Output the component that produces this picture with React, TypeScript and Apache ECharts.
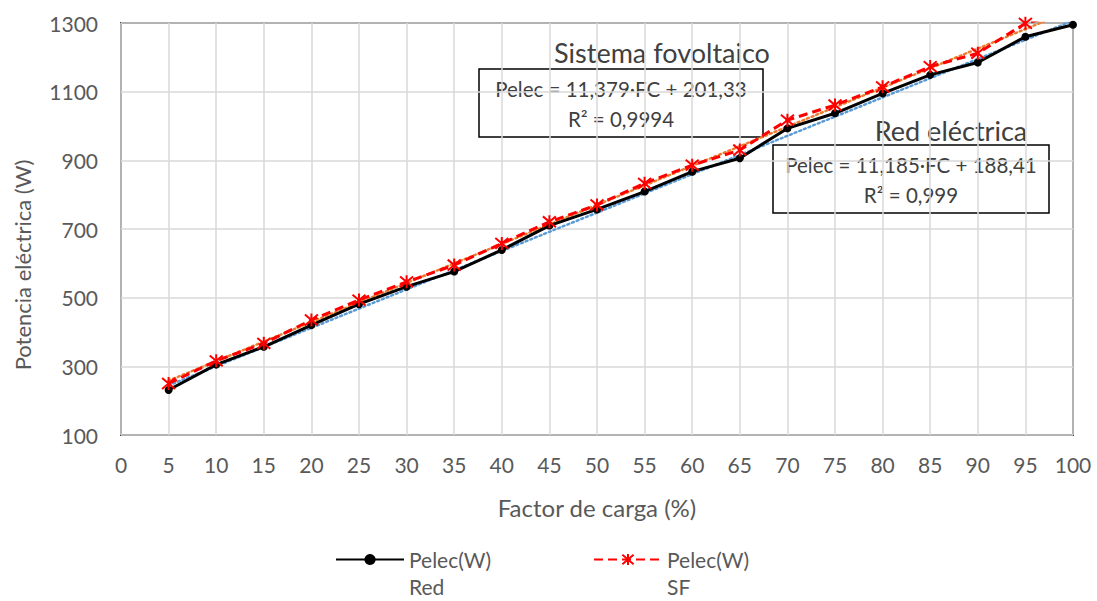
import React, { useEffect, useRef } from "react";
import * as echarts from "echarts";

// Factor de carga (%)
const FC = [5, 10, 15, 20, 25, 30, 35, 40, 45, 50, 55, 60, 65, 70, 75, 80, 85, 90, 95, 100];
// Potencia eléctrica medida con alimentación de red (W)
const P_RED = [231, 305, 357, 420, 481, 532, 576, 639, 710, 757, 809, 867, 906, 993, 1037, 1095, 1149, 1185, 1260, 1295];
// Potencia eléctrica con el sistema fotovoltaico (W)
const P_SF = [250, 316, 367, 435, 493, 546, 595, 658, 721, 770, 833, 886, 930, 1017, 1061, 1114, 1173, 1212, 1299, 1335];

// Ajustes lineales
const TREND_RED = { slope: 11.185, intercept: 188.41, r2: 0.999 };
const TREND_SF = { slope: 11.379, intercept: 201.33, r2: 0.9994 };

const NAME_RED = "Pelec(W) Red";
const NAME_SF = "Pelec(W) SF";

const FONT = "Lato, 'Open Sans', sans-serif";
const GREY = "#595959";
const DARK = "#404040";

const comma = (n: number) => String(n).replace(".", ",");
const eqText = (t: { slope: number; intercept: number; r2: number }) =>
  `Pelec = ${comma(t.slope)}·FC + ${comma(t.intercept)}\nR² = ${comma(t.r2)}`;
const trendPoints = (t: { slope: number; intercept: number }) => [
  [FC[0], t.slope * FC[0] + t.intercept],
  [FC[FC.length - 1], t.slope * FC[FC.length - 1] + t.intercept],
];

const STAR = "path://M0,0L10,10M10,0L0,10M5,-1L5,11";

function eqBox(x: number, y: number, w: number, h: number, text: string) {
  return {
    type: "group",
    x,
    y,
    children: [
      { type: "rect", shape: { x: 0, y: 0, width: w, height: h }, style: { fill: "#fff", stroke: "#000", lineWidth: 1.5 } },
      {
        type: "text",
        x: w / 2,
        y: h / 2 + 1,
        style: { text, fontFamily: FONT, fontSize: 20.5, fill: DARK, align: "center", verticalAlign: "middle", lineHeight: 30 },
      },
    ],
  };
}

export default function App() {
  const ref = useRef<HTMLDivElement>(null);
  useEffect(() => {
    const chart = echarts.init(ref.current!, null, { renderer: "svg" });
    // first line of each legend label sits level with its icon, the second one below it
    const legendBase = {
      orient: "horizontal",
      itemWidth: 68,
      itemHeight: 14,
      itemGap: 5,
      padding: 0,
      formatter: (n: string) => "\n" + n.replace(" ", "\n"),
      textStyle: { fontFamily: FONT, fontSize: 21, color: GREY, lineHeight: 27 },
    };
    chart.setOption({
      animation: false,
      backgroundColor: "#fff",
      textStyle: { fontFamily: FONT },
      grid: { left: 121, top: 23, right: 24, bottom: 166, show: true, borderColor: DARK, borderWidth: 2, backgroundColor: "transparent" },
      xAxis: {
        type: "value",
        min: 0,
        max: 100,
        interval: 5,
        name: "Factor de carga (%)",
        nameLocation: "middle",
        nameGap: 60,
        nameTextStyle: { fontFamily: FONT, fontSize: 24, color: GREY },
        axisLine: { show: false },
        axisTick: { show: false },
        axisLabel: { fontFamily: FONT, fontSize: 21, color: GREY, margin: 19 },
        splitLine: { show: true, lineStyle: { color: "#d9d9d9", width: 1.5 } },
      },
      yAxis: {
        type: "value",
        min: 100,
        max: 1300,
        interval: 200,
        axisLine: { show: false },
        axisTick: { show: false },
        axisLabel: { fontFamily: FONT, fontSize: 21, color: GREY, margin: 23, formatter: (v: number) => String(v) },
        splitLine: { show: true, lineStyle: { color: "#d9d9d9", width: 1.5 } },
      },
      legend: [
        { ...legendBase, data: [NAME_RED], left: 335, top: 519 },
        { ...legendBase, data: [NAME_SF], left: 593, top: 519 },
      ],
      series: [
        {
          name: "Lineal (Red)",
          type: "line",
          data: trendPoints(TREND_RED),
          showSymbol: false,
          symbol: "none",
          lineStyle: { color: "#5B9BD5", width: 2.5, type: [2, 3], cap: "round" },
          clip: true,
          silent: true,
        },
        {
          name: "Lineal (SF)",
          type: "line",
          data: trendPoints(TREND_SF),
          showSymbol: false,
          symbol: "none",
          lineStyle: { color: "#ED7D31", width: 2.5, type: [2, 3], cap: "round" },
          clip: true,
          silent: true,
        },
        {
          name: NAME_RED,
          type: "line",
          data: FC.map((x, i) => [x, P_RED[i]]),
          symbol: "circle",
          symbolSize: 8,
          itemStyle: { color: "#000" },
          lineStyle: { color: "#000", width: 3 },
          clip: true,
        },
        {
          name: NAME_SF,
          type: "line",
          data: FC.map((x, i) => [x, P_SF[i]]),
          symbol: STAR,
          symbolSize: 13,
          itemStyle: { color: "#FF0000", borderColor: "#FF0000", borderWidth: 2 },
          lineStyle: { color: "#FF0000", width: 3, type: [9, 5] },
          clip: true,
        },
      ],
      graphic: [
        {
          type: "text",
          x: 22,
          y: 265,
          rotation: Math.PI / 2,
          style: { text: "Potencia eléctrica (W)", fontFamily: FONT, fontSize: 22, fill: GREY, align: "center", verticalAlign: "middle" },
        },
        {
          type: "text",
          x: 662,
          y: 52,
          style: { text: "Sistema fovoltaico", fontFamily: FONT, fontSize: 27, fill: DARK, align: "center", verticalAlign: "middle" },
        },
        eqBox(479, 69, 284, 68, eqText(TREND_SF)),
        {
          type: "text",
          x: 951,
          y: 130,
          style: { text: "Red eléctrica", fontFamily: FONT, fontSize: 27, fill: DARK, align: "center", verticalAlign: "middle" },
        },
        eqBox(773, 145, 276, 68, eqText(TREND_RED)),
      ],
    });
    return () => chart.dispose();
  }, []);
  return <div ref={ref} style={{ position: "absolute", left: 0, top: 0, width: 1097, height: 601 }} />;
}
